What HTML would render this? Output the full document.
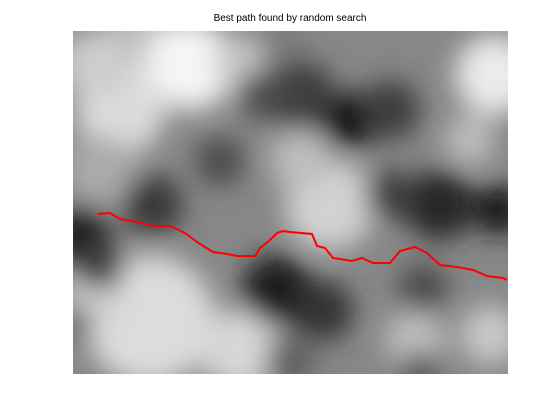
<!DOCTYPE html>
<html><head><meta charset="utf-8"><style>
body{margin:0;background:#fff;width:560px;height:420px;overflow:hidden}
svg{display:block;font-family:"Liberation Sans",sans-serif}
</style></head><body>
<svg id="chart" width="560" height="420">
<defs>
<filter id="blur" x="-20%" y="-20%" width="140%" height="140%"><feGaussianBlur stdDeviation="13"/></filter>
<clipPath id="clip"><rect x="73" y="31" width="435" height="343"/></clipPath>
</defs>
<text x="290" y="21" font-size="10" text-anchor="middle">Best path found by random search</text>
<g clip-path="url(#clip)">
<rect x="60" y="20" width="460" height="370" fill="rgb(135,135,135)"/>
<g id="blobs" filter="url(#blur)"></g>
</g>
<g id="plot" clip-path="url(#clip)"></g>
</svg>
<script>
// path data in image pixel coordinates (x: 0..435, y: 0..343 from top)
const pathX = [25,37,47,64,80,97,112,124,140,154,164,182,187,197,204,210,217,239,244,252,260,279,289,300,317,327,342,354,367,384,400,414,430,434];
const pathY = [183,182,188,191,195,195,202,211,221,223,225,225,217,209,202,200,201,203,215,217,227,230,227,232,232,220,216,222,234,236,239,245,247,249];
const blobs = [
 [280,45,30,125],[140,40,35,190],
 [190,65,45,245],[120,110,45,220],[95,65,35,205],[240,60,25,195],[100,170,35,170],
 [330,205,45,210],[300,160,30,190],[495,75,40,235],[470,140,25,190],
 [150,320,65,220],[95,295,30,210],[240,350,40,215],[415,340,30,190],[490,335,30,200],
 [350,120,28,10],[300,95,35,60],[390,110,30,60],[153,205,30,55],[80,235,30,30],
 [100,265,25,60],[440,205,35,40],[500,210,25,20],[277,290,35,30],[323,311,30,50],
 [423,288,25,75],[265,95,25,75],[390,195,25,60],[220,161,25,75],[290,361,25,95],
 [75,325,18,100],[420,372,20,80]
];
const ns="http://www.w3.org/2000/svg";
const bg=document.getElementById('blobs');
blobs.forEach(b=>{
 const c=document.createElementNS(ns,'circle');
 c.setAttribute('cx',b[0]);c.setAttribute('cy',b[1]);c.setAttribute('r',b[2]);
 c.setAttribute('fill',`rgb(${b[3]},${b[3]},${b[3]})`);
 bg.appendChild(c);
});
const sx=v=>73+v, sy=v=>31+v;
const p=document.createElementNS(ns,'polyline');


p.setAttribute('points',pathX.map((x,i)=>sx(x)+','+sy(pathY[i])).join(' '));
p.setAttribute('fill','none');p.setAttribute('stroke','#ff0000');p.setAttribute('stroke-width','2');
document.getElementById('plot').appendChild(p);
</script>
</body></html>
